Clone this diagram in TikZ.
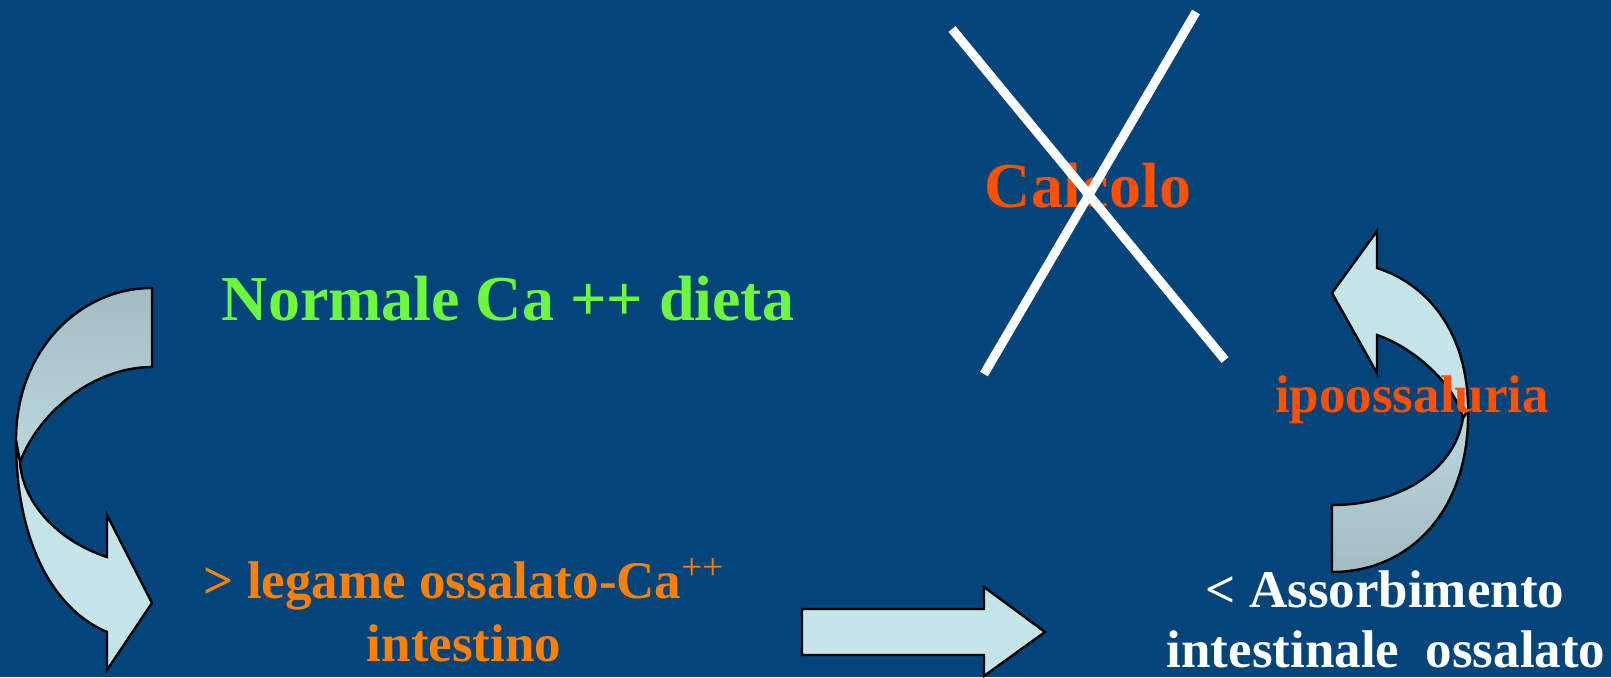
\documentclass[tikz,border=0pt]{standalone}
\usepackage{fontspec}
\setmainfont{Liberation Serif}
\usetikzlibrary{positioning}
\definecolor{SlideBlue}{HTML}{03457A}
\definecolor{ArrowLight}{HTML}{C4E5E8}
\definecolor{ArrowShade}{HTML}{A3BCC2}
\definecolor{DietGreen}{HTML}{6CF83C}
\definecolor{LinkOrange}{HTML}{FF8000}
\definecolor{StoneRed}{HTML}{FF5000}

\begin{document}
\begin{tikzpicture}[
  x=0.5pt,
  y=-0.5pt,
  txt/.style={font=\bfseries\fontsize{26.5}{30}\selectfont,anchor=base,inner sep=0pt},
  bigtxt/.style={txt,font=\bfseries\fontsize{32}{38}\selectfont},
  blockarrow/.style={draw=black,line width=1.2pt,fill=ArrowLight,line join=miter},
  backarrow/.style={draw=black,line width=1.2pt,line join=miter},
  cross/.style={draw=white,line width=4.5pt}
]
  \fill[SlideBlue] (0,0) rectangle (1611,677);
  \useasboundingbox (0,0) rectangle (1611,677);

  \draw[backarrow,top color=ArrowShade,bottom color=ArrowLight!70!ArrowShade]
    (152,288) .. controls (80,288) and (16,350) .. (16,440)
    -- (16,455) -- (20,462) .. controls (40,410) and (95,367) .. (152,367) -- cycle;
  \draw[blockarrow] (16,440) .. controls (16,545) and (55,610) .. (107,632)
    -- (107,670) -- (152,603) -- (107,515) -- (107,557)
    .. controls (55,540) and (22,500) .. (20,462) -- cycle;

  \draw[blockarrow] (802,609) -- (984,609) -- (984,587) -- (1045,632)
    -- (984,676) -- (984,655) -- (802,655) -- cycle;

  \draw[backarrow,top color=ArrowLight!70!ArrowShade,bottom color=ArrowShade]
    (1468,410) .. controls (1470,510) and (1410,572) .. (1332,572)
    -- (1332,505) .. controls (1400,505) and (1455,470) .. (1463,418) -- cycle;
  \draw[blockarrow] (1332,293) -- (1377,231) -- (1377,268)
    .. controls (1430,285) and (1468,335) .. (1468,410) -- (1463,418)
    .. controls (1455,385) and (1415,348) .. (1377,335) -- (1377,373) -- cycle;

  \node[bigtxt,text=StoneRed] (calcolo) at (1088,207) {Calcolo};
  \node[bigtxt,text=DietGreen] (dieta) at (508,320) {Normale Ca ++ dieta};
  \node[txt,text=LinkOrange] (legame) at (464,598) {> legame ossalato-Ca\textsuperscript{\mdseries ++}};
  \node[txt,text=LinkOrange] (intestino) at (464,661) {intestino};
  \node[txt,text=white] (assorb) at (1385,607) {< Assorbimento};
  \node[txt,text=white] (ossalato) at (1386,667) {intestinale\ \ ossalato};
  \node[txt,text=StoneRed] (ipo) at (1412,412) {ipoossaluria};

  \draw[cross] (952,29) -- (1225,360);
  \draw[cross] (1196,12) -- (984,374);
\end{tikzpicture}
\end{document}
